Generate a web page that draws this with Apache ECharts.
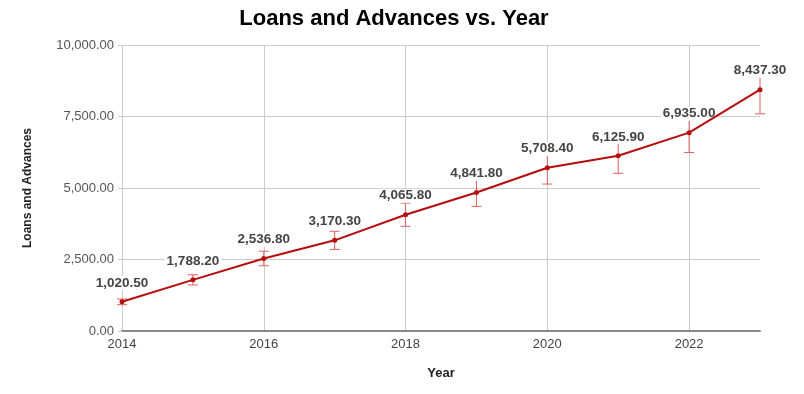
<!DOCTYPE html>
<html>
<head>
<meta charset="utf-8">
<script src="https://cdn.jsdelivr.net/npm/echarts@6/dist/echarts.min.js"></script>
<style>html,body{margin:0;padding:0;background:#fff;}#c{width:804px;height:394px;}</style>
</head>
<body>
<div id="c"></div>
<script>
const years = [2014, 2015, 2016, 2017, 2018, 2019, 2020, 2021, 2022, 2023];
const loans = [1020.5, 1788.2, 2536.8, 3170.3, 4065.8, 4841.8, 5708.4, 6125.9, 6935.0, 8437.3];
const errLow = [920, 1610, 2283, 2853, 3659, 4358, 5138, 5513, 6242, 7594];
const errHigh = [1120, 1966, 2790, 3487, 4472, 5326, 6279, 6739, 7629, 9281];
const yTicks = [0, 2500, 5000, 7500, 10000];

function fmt(v) {
  return Number(v).toLocaleString('en-US', {minimumFractionDigits: 2, maximumFractionDigits: 2});
}

const chart = echarts.init(document.getElementById('c'));
const font = 'Liberation Sans, Arial, sans-serif';
const pts = years.map((y, i) => [y, loans[i]]);
chart.setOption({
  animation: false,
  backgroundColor: '#fff',
  title: {
    text: 'Loans and Advances vs. Year',
    left: 389, top: 3, textAlign: 'center',
    textStyle: {fontFamily: font, fontSize: 22, fontWeight: 'bold', color: '#000'}
  },
  grid: {left: 122, right: 44, top: 45, bottom: 63},
  xAxis: {
    type: 'value', min: 2014, max: 2023, interval: 2,
    name: 'Year', nameLocation: 'middle', nameGap: 36,
    nameTextStyle: {fontFamily: font, fontSize: 13, fontWeight: 'bold', color: '#222'},
    axisLine: {show: true, lineStyle: {color: '#888', width: 2}},
    axisTick: {show: false},
    axisLabel: {fontFamily: font, fontSize: 13, color: '#444', margin: 7, showMaxLabel: false,
      formatter: v => String(v)},
    splitLine: {show: true, showMaxLine: false, lineStyle: {color: '#ccc', width: 1}}
  },
  yAxis: {
    type: 'value', min: 0, max: 10000, interval: 2500,
    name: 'Loans and Advances', nameLocation: 'middle', nameGap: 88,
    nameTextStyle: {fontFamily: font, fontSize: 12, fontWeight: 'bold', color: '#222'},
    axisLine: {show: false},
    axisTick: {show: true, length: 4, lineStyle: {color: '#ccc'}},
    axisLabel: {fontFamily: font, fontSize: 13, color: '#555', margin: 8,
      formatter: v => yTicks.indexOf(v) >= 0 ? fmt(v) : ''},
    splitLine: {show: true, lineStyle: {color: '#ccc', width: 1}}
  },
  series: [
    {
      type: 'custom',
      z: 2,
      data: years.map((y, i) => [y, errLow[i], errHigh[i]]),
      renderItem: function (params, api) {
        const x = api.value(0);
        const lo = api.coord([x, api.value(1)]);
        const hi = api.coord([x, api.value(2)]);
        const w = 5;
        const style = {stroke: '#dc6063', lineWidth: 1, fill: null};
        return {
          type: 'group',
          children: [
            {type: 'line', shape: {x1: lo[0], y1: lo[1], x2: hi[0], y2: hi[1]}, style: style},
            {type: 'line', shape: {x1: lo[0] - w, y1: lo[1], x2: lo[0] + w, y2: lo[1]}, style: style},
            {type: 'line', shape: {x1: hi[0] - w, y1: hi[1], x2: hi[0] + w, y2: hi[1]}, style: style}
          ]
        };
      }
    },
    {
      type: 'scatter',
      z: 3,
      data: pts,
      symbolSize: 0,
      silent: true,
      itemStyle: {opacity: 1},
      label: {
        show: true, position: 'top', distance: 12,
        formatter: p => fmt(p.value[1]),
        fontFamily: font, fontSize: 13.5, fontWeight: 'bold', color: '#444', opacity: 1,
        backgroundColor: '#fff', padding: [0, 2]
      }
    },
    {
      type: 'line',
      z: 4,
      data: pts,
      lineStyle: {color: '#b50d0d', width: 2},
      itemStyle: {color: '#b50d0d'},
      symbol: 'circle', symbolSize: 5,
      label: {show: false}
    }
  ]
});
</script>
</body>
</html>
